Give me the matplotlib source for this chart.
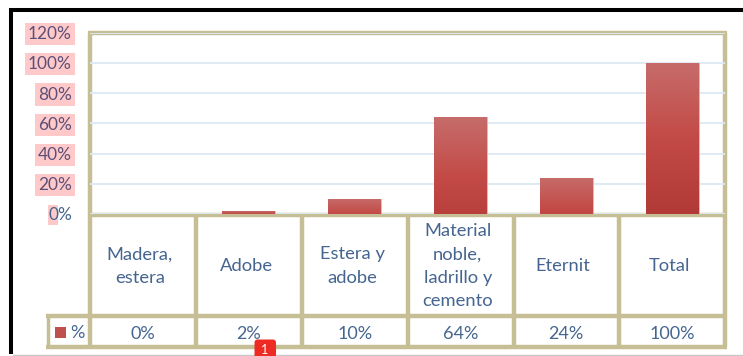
import matplotlib
matplotlib.use('Agg')
import matplotlib.pyplot as plt
import numpy as np
from matplotlib.patches import Rectangle, FancyBboxPatch

plt.rcParams['font.family'] = ['Lato', 'DejaVu Sans']

categorias = ['Madera,\nestera', 'Adobe', 'Estera y\nadobe', 'Material\nnoble,\nladrillo y\ncemento', 'Eternit', 'Total']
valores = [0, 2, 10, 64, 24, 100]
etiquetas = ['0%', '2%', '10%', '64%', '24%', '100%']
ticks = [0, 20, 40, 60, 80, 100, 120]

W, H = 743, 356
BORDE = '#c6bf96'
AZUL = '#456590'
TICK = '#5a5078'
ROSA = '#ffc9c9'
GRID = '#dde8f5'

fig = plt.figure(figsize=(W / 100, H / 100), dpi=100, facecolor='white')

# capa en pixeles para marco, tabla y leyenda
bg = fig.add_axes([0, 0, 1, 1])
bg.set_xlim(0, W)
bg.set_ylim(H, 0)
bg.axis('off')

bg.plot([11, 11], [354, 8.5], color='black', lw=2.9, solid_capstyle='butt', zorder=2)
bg.plot([9, 743], [10.3, 10.3], color='black', lw=2.9, solid_capstyle='butt', zorder=2)
bg.plot([13, 743], [354.5, 354.5], color='#c8c8c8', lw=1, zorder=2)

# grafico de barras
x0, x1, y_top, y_base = 90, 725, 32.5, 214
ax = fig.add_axes([x0 / W, 1 - y_base / H, (x1 - x0) / W, (y_base - y_top) / H])
ax.patch.set_alpha(0)
ax.set_xlim(-0.5, 5.5)
ax.set_ylim(0, 120)
for s in ax.spines.values():
    s.set_visible(False)
ax.set_xticks([])
ax.set_yticks(ticks)
ax.set_yticklabels([f'{t}%' for t in ticks], fontsize=12.4, color=TICK)
ax.tick_params(axis='y', length=0, pad=13)
ax.grid(True, axis='y', color=GRID, lw=1.3)
ax.set_axisbelow(True)

for lab, t in zip(ax.get_yticklabels(), ticks):
    if t > 0:
        lab.set_bbox(dict(facecolor=ROSA, edgecolor='none', pad=2.2))
    else:
        lab.set_color(AZUL)
bg.add_patch(Rectangle((48, 205), 10, 20, facecolor=ROSA, edgecolor='none', zorder=1))

# barras con degradado vertical
cmap = matplotlib.colors.LinearSegmentedColormap.from_list('rojo', ['#c66c6a', '#c34a46', '#b23a36'])
grad = np.linspace(0, 1, 64).reshape(-1, 1)
barras = ax.bar(range(len(valores)), valores, width=0.5, color='#c0504d', edgecolor='#e8b8b6', lw=0.6, zorder=3)
for b, v in zip(barras, valores):
    if v == 0:
        continue
    x = b.get_x()
    # el degradado crece con la altura de cada barra
    fin = 0.45 + 0.55 * v / 100
    im = ax.imshow(grad * fin, extent=(x, x + b.get_width(), 0, v), aspect='auto', cmap=cmap,
                   vmin=0, vmax=1, zorder=3.5)
    im.set_clip_path(b)
ax.set_xlim(-0.5, 5.5)
ax.set_ylim(0, 120)

# lineas de la tabla
columnas = [90, 196, 302, 408, 513.5, 619, 725]
fila_cat, fila_val = 316, 347
lw = 3.2
for cx in columnas:
    bg.plot([cx, cx], [fila_val, y_base if cx not in (90, 725) else 33], color=BORDE, lw=lw,
            solid_capstyle='butt', zorder=5)
bg.plot([47.5, 47.5], [fila_cat, fila_val], color=BORDE, lw=2.5, solid_capstyle='butt', zorder=5)
for yy, xa in ((33, 90), (214.5, 90), (fila_cat, 46), (fila_val, 46)):
    bg.plot([xa - 2 if xa == 90 else xa, 727], [yy, yy], color=BORDE, lw=lw, solid_capstyle='butt', zorder=5)

for i, (c, e) in enumerate(zip(categorias, etiquetas)):
    cx = (columnas[i] + columnas[i + 1]) / 2
    bg.text(cx - 3, 266, c, ha='center', va='center', fontsize=13.2, color=AZUL, linespacing=1.54, zorder=6)
    bg.text(cx, 334, e, ha='center', va='center', fontsize=13, color=AZUL, zorder=6)

# leyenda de la serie
bg.add_patch(Rectangle((55, 327), 11, 10.5, facecolor='#c0504d', edgecolor='none', zorder=6))
bg.text(77.5, 332.5, '%', ha='center', va='center', fontsize=13, color=AZUL, zorder=6)

# insignia roja
bg.add_patch(FancyBboxPatch((254.5, 339.5), 21.5, 24, boxstyle='round,pad=0,rounding_size=3',
                            facecolor='#ee2a24', edgecolor='none', zorder=7))
bg.text(265, 349.5, '1', ha='center', va='center', fontsize=9, color='white', zorder=8)

fig.savefig('out.png', dpi=100)
